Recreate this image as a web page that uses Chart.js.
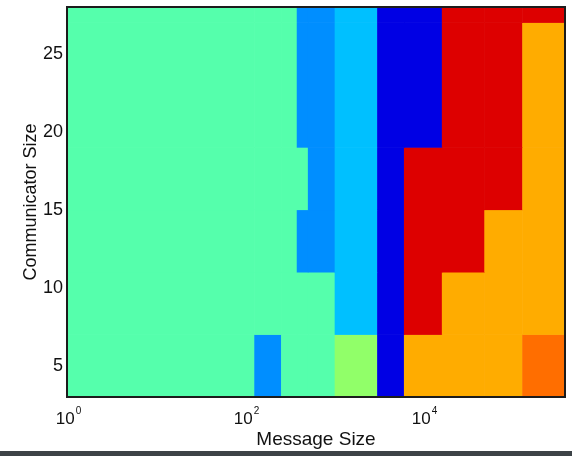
<!DOCTYPE html>
<html><head><meta charset="utf-8">
<script src="https://cdn.jsdelivr.net/npm/chart.js@4/dist/chart.umd.min.js"></script>
<style>
html,body{margin:0;padding:0;background:#fff;}
#wrap{position:relative;width:572px;height:456px;overflow:hidden;}
#bar{position:absolute;left:0;top:451px;width:572px;height:5px;background:#3d4347;}
</style>
</head><body>
<div id="wrap"><canvas id="c" width="572" height="456"></canvas><div id="bar"></div></div>
<script>
// Cell edges (message size, bytes) and communicator size edges
const messageSizeEdges = [1, 128, 256, 384, 512, 1024, 3072, 6144, 16384, 49152, 131072, 393216];
const communicatorSizeEdges = [3, 7, 11, 15, 19, 27, 28];
// Algorithm palette (index -> colour)
const algorithmColors = [
  'rgb(85,255,172)',   // 0 green
  'rgb(0,142,255)',    // 1 dodger blue
  'rgb(0,192,255)',    // 2 sky blue
  'rgb(0,0,228)',      // 3 blue
  'rgb(221,0,0)',      // 4 red
  'rgb(255,172,0)',    // 5 orange
  'rgb(255,110,0)',    // 6 dark orange
  'rgb(145,255,105)'   // 7 light green
];
// Best algorithm per (communicator row, message column); row 0 = bottom
const bestAlgorithm = [
  [0, 1, 0, 0, 0, 7, 3, 5, 5, 5, 6],
  [0, 0, 0, 0, 0, 2, 3, 4, 5, 5, 5],
  [0, 0, 0, 1, 1, 2, 3, 4, 4, 5, 5],
  [0, 0, 0, 0, 1, 2, 3, 4, 4, 4, 5],
  [0, 0, 0, 1, 1, 2, 3, 3, 4, 4, 5],
  [0, 0, 0, 1, 1, 2, 3, 3, 4, 4, 4]
];
const xTickValues = [1, 100, 10000];
const xTickBases = ['10', '10', '10'];
const xTickExponents = ['0', '2', '4'];
const yTickValues = [5, 10, 15, 20, 25];

const FONT = '"Liberation Sans", Arial, Helvetica, sans-serif';

const heatmapPlugin = {
  id: 'heatmap',
  beforeDatasetsDraw(chart) {
    const {ctx, scales: {x, y}} = chart;
    ctx.save();
    bestAlgorithm.forEach((row, r) => {
      row.forEach((alg, c) => {
        const x0 = x.getPixelForValue(messageSizeEdges[c]);
        const x1 = x.getPixelForValue(messageSizeEdges[c + 1]);
        const y0 = y.getPixelForValue(communicatorSizeEdges[r]);
        const y1 = y.getPixelForValue(communicatorSizeEdges[r + 1]);
        ctx.fillStyle = algorithmColors[alg];
        ctx.fillRect(x0 - 0.3, y1 - 0.3, (x1 - x0) + 0.6, (y0 - y1) + 0.6);
      });
    });
    ctx.restore();
  },
  afterDraw(chart) {
    const {ctx, chartArea: a, scales: {x}} = chart;
    ctx.save();
    ctx.strokeStyle = '#1c1c1c';
    ctx.lineWidth = 2;
    ctx.strokeRect(a.left, a.top, a.right - a.left, a.bottom - a.top);
    // x tick labels as base with raised exponent
    ctx.fillStyle = '#111';
    ctx.textBaseline = 'alphabetic';
    ctx.textAlign = 'left';
    xTickValues.forEach((v, i) => {
      const px = x.getPixelForValue(v);
      ctx.font = '17px ' + FONT;
      const wb = ctx.measureText(xTickBases[i]).width;
      ctx.font = '10px ' + FONT;
      const we = ctx.measureText(xTickExponents[i]).width;
      const total = wb + 1 + we;
      const sx = px - total / 2 + 1.5;
      ctx.font = '17px ' + FONT;
      ctx.fillText(xTickBases[i], sx, a.bottom + 26.5);
      ctx.font = '10px ' + FONT;
      ctx.fillText(xTickExponents[i], sx + wb + 1, a.bottom + 16.5);
    });
    ctx.restore();
  }
};

new Chart(document.getElementById('c'), {
  type: 'scatter',
  data: {datasets: [{data: []}]},
  options: {
    responsive: false,
    animation: false,
    layout: {padding: {top: 7, right: 7, left: 0, bottom: 0}},
    plugins: {legend: {display: false}, tooltip: {enabled: false}},
    scales: {
      x: {
        type: 'logarithmic',
        min: messageSizeEdges[0],
        max: messageSizeEdges[messageSizeEdges.length - 1],
        afterBuildTicks(s) { s.ticks = xTickValues.map(v => ({value: v})); },
        afterFit(s) { s.height = 59; s.paddingLeft = 0; s.paddingRight = 0; },
        grid: {display: false, drawTicks: false},
        border: {display: false},
        ticks: {display: false},
        title: {display: true, text: 'Message Size', color: '#111',
          font: {family: FONT, size: 19}, padding: {top: 0, bottom: 5}}
      },
      y: {
        type: 'linear',
        min: communicatorSizeEdges[0],
        max: communicatorSizeEdges[communicatorSizeEdges.length - 1],
        afterBuildTicks(s) { s.ticks = yTickValues.map(v => ({value: v})); },
        afterFit(s) { s.width = 67; s.paddingTop = 0; s.paddingBottom = 0; },
        grid: {display: false, drawTicks: false},
        border: {display: false},
        ticks: {color: '#111', font: {family: FONT, size: 18}, padding: 4, autoSkip: false},
        title: {display: true, text: 'Communicator Size', color: '#111',
          font: {family: FONT, size: 18}, padding: {top: 20, bottom: 0}}
      }
    }
  },
  plugins: [heatmapPlugin]
});
</script>
</body></html>
